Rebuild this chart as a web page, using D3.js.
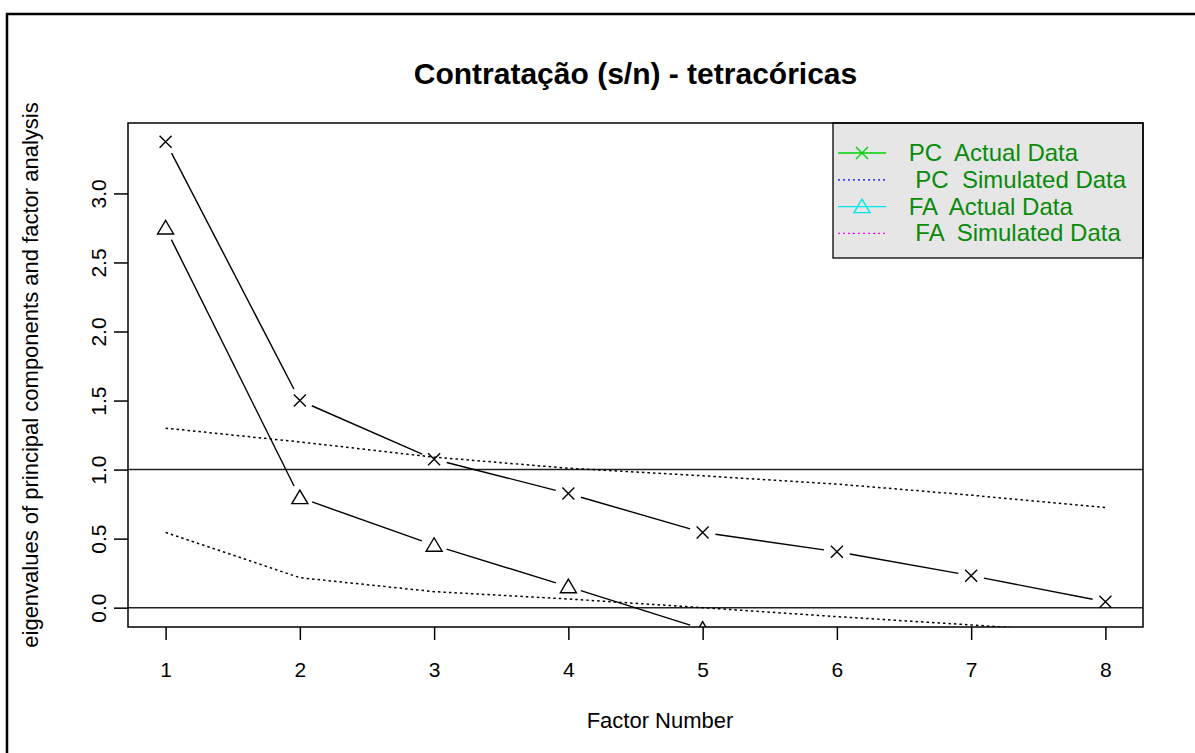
<!DOCTYPE html>
<html>
<head>
<meta charset="utf-8">
<script src="https://cdn.jsdelivr.net/npm/d3@7"></script>
<style>
  body { margin: 0; background: #fff; }
  text { font-family: "Liberation Sans", Arial, sans-serif; }
</style>
</head>
<body>
<div id="chart"></div>
<script>
const width = 1195;
const height = 753;

const factors = [1, 2, 3, 4, 5, 6, 7, 8];
const pcActual = [3.375, 1.50, 1.075, 0.826, 0.545, 0.405, 0.232, 0.043];
const pcSimulated = [1.30, 1.20, 1.09, 1.01, 0.955, 0.895, 0.815, 0.725];
const faActual = [2.75, 0.797, 0.452, 0.152, -0.155];
const faSimulated = [0.545, 0.217, 0.116, 0.063, 0.0, -0.065, -0.125, -0.19];
const yTicks = [0, 0.5, 1.0, 1.5, 2.0, 2.5, 3.0];
const refLines = [0, 1];

const legendItems = [
    { label: " PC  Actual Data", color: "#00d000", dash: null, marker: "x" },
    { label: "  PC  Simulated Data", color: "#0000ff", dash: "2,3", marker: null },
    { label: " FA  Actual Data", color: "#00e8e8", dash: null, marker: "tri" },
    { label: "  FA  Simulated Data", color: "#ff00ff", dash: "2,3", marker: null }
];

const plot = { left: 128, right: 1143, top: 123, bottom: 627 };

const svg = d3.select("#chart")
    .append("svg")
    .attr("width", width)
    .attr("height", height);

svg.append("rect")
    .attr("width", width)
    .attr("height", height)
    .attr("fill", "#fff");

// outer frame (only top and left edges show)
svg.append("path")
    .attr("d", `M7,${height} V14 H${width}`)
    .attr("fill", "none")
    .attr("stroke", "#000")
    .attr("stroke-width", 2.5);

const x = d3.scaleLinear()
    .domain([0.72, 8.28])
    .range([plot.left, plot.right]);

const y = d3.scaleLinear()
    .domain([-0.14, 3.51])
    .range([plot.bottom, plot.top]);

svg.append("clipPath")
    .attr("id", "plotClip")
    .append("rect")
    .attr("x", plot.left)
    .attr("y", plot.top)
    .attr("width", plot.right - plot.left)
    .attr("height", plot.bottom - plot.top);

const area = svg.append("g").attr("clip-path", "url(#plotClip)");

area.selectAll(".ref")
    .data(refLines)
    .enter()
    .append("line")
    .attr("x1", plot.left)
    .attr("x2", plot.right)
    .attr("y1", d => y(d))
    .attr("y2", d => y(d))
    .attr("stroke", "#222")
    .attr("stroke-width", 1.5);

const dotted = d3.line()
    .x((d, i) => x(factors[i]))
    .y(d => y(d));

[pcSimulated, faSimulated].forEach(series => {
    area.append("path")
        .attr("d", dotted(series))
        .attr("fill", "none")
        .attr("stroke", "#000")
        .attr("stroke-width", 1.5)
        .attr("stroke-dasharray", "2.5,3");
});

// type = "b": segments with a gap around every point
const gap = 13;
function gappedSegments(series) {
    const segs = [];
    for (let i = 0; i < series.length - 1; i++) {
        const x0 = x(factors[i]), y0 = y(series[i]);
        const x1 = x(factors[i + 1]), y1 = y(series[i + 1]);
        const len = Math.hypot(x1 - x0, y1 - y0);
        const ux = (x1 - x0) / len, uy = (y1 - y0) / len;
        segs.push([x0 + ux * gap, y0 + uy * gap, x1 - ux * gap, y1 - uy * gap]);
    }
    return segs;
}

function crossPath(s) {
    return `M${-s},${-s}L${s},${s}M${-s},${s}L${s},${-s}`;
}
function triPath() {
    return "M0,-7.5L-8,6L8,6Z";
}

[[pcActual, "x"], [faActual, "tri"]].forEach(([series, marker]) => {
    area.selectAll(null)
        .data(gappedSegments(series))
        .enter()
        .append("line")
        .attr("x1", d => d[0])
        .attr("y1", d => d[1])
        .attr("x2", d => d[2])
        .attr("y2", d => d[3])
        .attr("stroke", "#000")
        .attr("stroke-width", 1.4);

    area.selectAll(null)
        .data(series)
        .enter()
        .append("path")
        .attr("transform", (d, i) => `translate(${x(factors[i])},${y(d)})`)
        .attr("d", marker === "x" ? crossPath(6) : triPath())
        .attr("fill", "none")
        .attr("stroke", "#000")
        .attr("stroke-width", 1.4);
});

// legend
const legend = svg.append("g");
legend.append("rect")
    .attr("x", 833)
    .attr("y", plot.top)
    .attr("width", plot.right - 833)
    .attr("height", 135)
    .attr("fill", "#e6e6e6")
    .attr("stroke", "#000")
    .attr("stroke-width", 1.3);

const rows = legend.selectAll(".legend")
    .data(legendItems)
    .enter()
    .append("g")
    .attr("class", "legend")
    .attr("transform", (d, i) => `translate(0,${153 + i * 26.8})`);

rows.append("line")
    .attr("x1", 838)
    .attr("x2", 886)
    .attr("stroke", d => d.color)
    .attr("stroke-width", 1.3)
    .attr("stroke-dasharray", d => d.dash);

rows.filter(d => d.marker)
    .append("path")
    .attr("transform", "translate(862,0)")
    .attr("d", d => d.marker === "x" ? crossPath(6) : triPath())
    .attr("fill", "none")
    .attr("stroke", d => d.color)
    .attr("stroke-width", 1.4);

rows.append("text")
    .attr("x", 902)
    .attr("y", 8)
    .style("white-space", "pre")
    .attr("font-size", 24)
    .attr("fill", "#0a8a0a")
    .text(d => d.label);

// box
svg.append("rect")
    .attr("x", plot.left)
    .attr("y", plot.top)
    .attr("width", plot.right - plot.left)
    .attr("height", plot.bottom - plot.top)
    .attr("fill", "none")
    .attr("stroke", "#000")
    .attr("stroke-width", 1.5);

// axes
const xAxis = svg.append("g")
    .attr("transform", `translate(0,${plot.bottom})`)
    .call(d3.axisBottom(x).tickValues(factors).tickSize(13).tickPadding(22).tickFormat(d3.format("d")));

const yAxis = svg.append("g")
    .attr("transform", `translate(${plot.left},0)`)
    .call(d3.axisLeft(y).tickValues(yTicks).tickSize(14).tickFormat(d3.format(".1f")));

[xAxis, yAxis].forEach(a => {
    a.select(".domain").remove();
    a.selectAll(".tick line").attr("stroke", "#000").attr("stroke-width", 1.5);
    a.selectAll(".tick text")
        .attr("fill", "#000")
        .attr("font-size", 21)
        .attr("font-family", "Liberation Sans, Arial, sans-serif");
});

yAxis.selectAll(".tick text")
    .attr("x", null)
    .attr("dy", null)
    .attr("text-anchor", "middle")
    .attr("transform", "translate(-22,0) rotate(-90)")
    .attr("y", 0);

svg.append("text")
    .attr("x", (plot.left + plot.right) / 2)
    .attr("y", 84)
    .attr("text-anchor", "middle")
    .attr("font-size", 30)
    .attr("font-weight", "bold")
    .text("Contratação (s/n) - tetracóricas");

svg.append("text")
    .attr("x", 660)
    .attr("y", 728)
    .attr("text-anchor", "middle")
    .attr("font-size", 22)
    .text("Factor Number");

svg.append("text")
    .attr("transform", `translate(38,${(plot.top + plot.bottom) / 2}) rotate(-90)`)
    .attr("text-anchor", "middle")
    .attr("font-size", 22)
    .text("eigenvalues of principal components and factor analysis");
</script>
</body>
</html>
